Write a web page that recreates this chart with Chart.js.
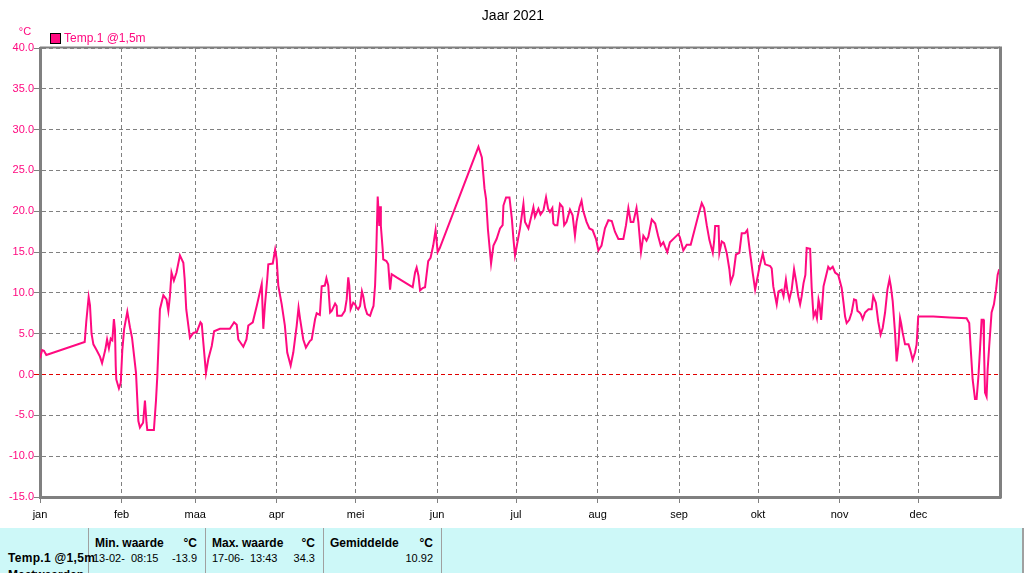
<!DOCTYPE html>
<html>
<head>
<meta charset="utf-8">
<title>Jaar 2021</title>
<script src="https://cdn.jsdelivr.net/npm/chart.js"></script>
<style>
  html, body { margin: 0; padding: 0; background: #fff; overflow: hidden; }
  #wrap { position: relative; width: 1024px; height: 573px; }
  #myChart { position: absolute; left: 0; top: 0; }
  #stats {
    position: absolute; left: 0; top: 528px; width: 1022px; height: 45px;
    background: #cdf8f8; border-right: 2px solid #a0a0a0;
    font-family: "Liberation Sans", Arial, sans-serif; font-size: 11px; color: #000;
    overflow: hidden;
  }
  #stats .sep { position: absolute; top: 0; width: 1px; height: 45px; background: #a0a0a0; }
  #stats span { position: absolute; white-space: nowrap; }
  #stats .b { font-weight: bold; font-size: 12px; }
</style>
</head>
<body>
<div id="wrap">
  <canvas id="myChart" width="1024" height="528"></canvas>
  <div id="stats">
    <div class="sep" style="left:88px"></div>
    <div class="sep" style="left:205px"></div>
    <div class="sep" style="left:323px"></div>
    <div class="sep" style="left:441px"></div>
    <span class="b" style="left:95px;top:8px">Min. waarde</span>
    <span class="b" style="right:825px;top:8px">°C</span>
    <span class="b" style="left:212px;top:8px">Max. waarde</span>
    <span class="b" style="right:707px;top:8px">°C</span>
    <span class="b" style="left:330px;top:8px">Gemiddelde</span>
    <span class="b" style="right:589px;top:8px">°C</span>
    <span class="b" style="left:8px;top:23px;letter-spacing:0.3px">Temp.1 @1,5m</span>
    <span style="left:93px;top:24px">13-02-&nbsp; 08:15</span>
    <span style="right:825px;top:24px">-13.9</span>
    <span style="left:212px;top:24px">17-06-&nbsp; 13:43</span>
    <span style="right:707px;top:24px">34.3</span>
    <span style="right:589px;top:24px">10.92</span>
    <span class="b" style="left:8px;top:40px">Meetwaarden</span>
  </div>
</div>

<script>
// month labels and the day of the year they start on
const monthLabels = ['jan', 'feb', 'maa', 'apr', 'mei', 'jun', 'jul', 'aug', 'sep', 'okt', 'nov', 'dec'];
const monthStarts = [0, 31, 59, 90, 120, 151, 181, 212, 243, 273, 304, 334];

// readings: day of the year (0 = 1 jan) and temperature in °C
const days = [
  0, 0.8, 1.5, 2.4, 17, 17.6, 18.5, 19, 19.6, 20.3, 21.5, 22.8, 23.6, 24.8, 25.5, 26.2, 26.9, 27.5, 28.1, 28.5,
  28.8, 29, 30, 30.7, 31.3, 32, 33.2, 34.2, 35, 36.5, 37.4, 38, 39.2, 39.9, 40.5, 40.8, 43.3, 44.1, 44.6, 45.6,
  46.9, 48.1, 48.8, 49.4, 50, 50.9, 51.9, 53.2, 54.5, 55, 55.6, 57, 58.3, 59.6, 61, 61.5, 62.1, 63.1, 64, 65.3,
  66.2, 68.4, 72.2, 73.8, 74.8, 75.4, 77.3, 78.5, 79.2, 80.9,
  82.4, 84.3, 84.9, 85.5, 86.4, 86.8, 88.5, 89.4, 90, 90.6, 91.9, 93.1, 94, 95.3, 96.3, 97.6, 98.3, 98.9, 100.1, 101.1,
  102.6, 103.3, 104.6, 105.2, 106.4, 107.1, 108.3, 108.9, 109.6, 110.3, 110.9, 112.2, 112.8, 113, 114.7, 115.9, 116.6, 117.2, 117.6, 118.1,
  119.1, 119.8, 120.4, 121, 121.7, 122.4, 122.9, 123.6, 124.4, 125.5, 126.1, 126.8, 127.4, 127.8, 128.4, 129, 129.3, 129.6, 130.3, 130.5,
  131.7, 132.4, 133.1, 133.7, 135.6, 140.7, 141.7, 142.6, 143.2, 143.9,
  144.5, 145.5, 146.4, 147.6, 148.5, 149.5, 150.4, 151.2, 152, 166.7, 168, 169, 169.6, 170.3, 171.5, 172.4, 173.6, 174.9, 175.9, 176.2,
  177.2, 178.5, 179.4, 180, 180.6, 181.3, 182.5, 183.8, 184.4, 185.7, 186.9, 187.6, 188.2, 189.5, 190.3, 191.4, 192.4, 193.2, 193.9, 194.8,
  195.2, 195.8, 196.7, 197.7, 198.7, 199.3, 200.2, 201.5, 202.5, 203.4, 204, 205.1, 205.9, 206.5, 207.8, 208.9, 210.1, 211.4, 212.3, 213.5,
  214.8, 216.1, 217.4, 218.6, 219.9, 221.8, 222.8, 223.7, 224.6, 225.6, 226.8, 227.5, 228.5, 229.4, 230.6, 231.3, 232.6, 233.9, 235, 236,
  237, 237.7, 238.5, 239.5, 241.4, 242.7, 243.3, 244.6, 245.9, 247.4, 249, 250.3, 251.6, 252.5, 253.5, 254.5, 255.8, 256.3, 256.7, 258,
  258.3, 259.2, 260.1, 261.1, 262.1, 262.6, 263.6, 264.6, 265.9, 266.8, 268, 268.9, 269.9, 271, 271.9, 272.5, 273.5, 274.8, 275.7, 277.6,
  278.2, 278.8, 279.5, 280.1, 280.8, 282, 282.7, 283.6, 284.1, 284.9, 285.8, 286.7, 287.5, 288.3, 289, 289.6, 290.3, 291, 291.5, 292.8,
  293.4, 294.1, 294.8, 295.4, 296, 296.4, 297, 297.6, 297.9, 298.8, 299.7, 300.4, 301.4, 302.3, 303.5, 304.8, 305.5, 306.1, 306.7, 307.7,
  308.6, 309.5, 310.3, 310.8, 311.6, 312.1, 312.8, 313.7, 315, 316.2, 316.8, 317.8, 318.7, 319.6, 320.4, 321.3, 322.2, 323, 323.5, 324.2,
  325.1, 325.7, 326.4, 327, 327.4, 328, 328.9, 330.2, 330.8, 331.8, 332.7, 333.3, 333.9, 339.6, 345.9, 352.3, 353.3, 353.8, 354.6, 355.5,
  356.1, 356.8, 357.4, 358, 358.7, 358.9, 359.3, 359.9, 360.3, 360.9, 361.8, 362.7, 363.5, 364.1, 364.7
];
const temps = [
  2.0, 3.0, 2.9, 2.4, 4.0, 6.5, 9.5, 8.5, 5.0, 3.7, 3.0, 2.2, 1.4, 3.0, 4.3, 3.2, 4.4, 4.2, 6.8, 5.5,
  1.0, -0.6, -1.7, -1.0, 3.0, 5.6, 7.7, 5.8, 4.5, 0.2, -5.7, -6.5, -5.9, -3.2, -5.9, -6.8, -6.8, -3.2, -0.2, 8.0,
  9.7, 9.2, 7.8, 9.6, 12.5, 11.5, 12.5, 14.6, 13.7, 11.7, 8.0, 4.5, 5.1, 5.2, 6.4, 6.2, 3.9, 0.2, 1.9, 3.5,
  5.3, 5.6, 5.6, 6.4, 6.1, 4.3, 3.4, 4.3, 6.0, 6.4,
  8.4, 11.1, 5.6, 8.4, 11.7, 13.5, 13.6, 15.3, 14.1, 10.9, 8.6, 6.0, 2.7, 1.1, 2.7, 6.0, 8.2, 6.8, 4.3, 3.3,
  4.1, 4.3, 6.8, 7.5, 7.3, 10.8, 10.9, 11.8, 10.9, 7.6, 7.8, 8.7, 8.4, 7.2, 7.2, 7.8, 9.2, 11.9, 10.9, 8.0,
  8.8, 8.6, 8.2, 8.0, 8.4, 10.2, 9.6, 8.2, 7.4, 7.2, 7.8, 8.4, 10.9, 14.5, 21.8, 18.2, 20.6, 18.2, 15.3, 14.1,
  13.9, 13.5, 10.4, 12.3, 11.9, 10.9, 10.7, 12.5, 13.1, 12.1,
  10.3, 10.6, 10.7, 13.9, 14.3, 15.8, 17.7, 15.0, 15.5, 27.9, 26.6, 22.8, 21.5, 17.8, 13.6, 15.8, 16.6, 17.9, 18.3, 20.7,
  21.7, 21.7, 19.1, 16.6, 14.6, 15.8, 17.9, 20.9, 18.7, 17.9, 19.5, 20.5, 19.3, 20.3, 19.6, 20.1, 21.7, 20.3, 19.9, 20.4,
  18.5, 18.3, 18.3, 20.9, 20.5, 18.3, 18.7, 20.2, 19.5, 17.0, 18.7, 20.5, 21.3, 20.1, 18.7, 17.9, 17.7, 16.6, 15.2, 15.8,
  17.9, 18.9, 18.8, 17.5, 16.6, 16.6, 18.3, 20.4, 18.7, 18.7, 20.4, 18.7, 15.0, 17.0, 16.4, 16.9, 19.0, 18.5, 17.0, 15.8,
  16.2, 15.6, 15.0, 16.2, 16.8, 17.2, 16.8, 15.2, 15.9, 15.9, 17.9, 19.5, 21.0, 20.4, 18.3, 16.5, 14.9, 16.3, 18.2, 18.2,
  14.9, 16.3, 16.1, 14.9, 12.9, 11.3, 12.2, 14.7, 14.9, 17.3, 17.3, 17.7, 15.1, 12.4, 10.4, 11.4, 13.1, 14.8, 13.5, 13.3,
  13.0, 10.8, 9.6, 8.6, 10.2, 10.4, 9.6, 11.6, 10.4, 9.2, 10.4, 12.9, 11.4, 9.6, 8.6, 9.6, 11.2, 12.2, 15.5, 15.4,
  10.6, 7.1, 7.7, 6.9, 9.2, 8.6, 6.7, 9.4, 10.8, 12.0, 13.2, 12.9, 13.2, 12.5, 12.2, 10.6, 8.8, 7.1, 6.3, 6.7,
  7.6, 9.2, 9.1, 7.8, 7.6, 7.4, 6.8, 7.6, 8.0, 8.0, 9.6, 8.8, 6.5, 4.9, 5.7, 7.6, 10.4, 11.7, 10.8, 9.0,
  5.1, 1.6, 3.7, 6.9, 6.3, 5.1, 3.7, 3.7, 3.1, 1.8, 2.7, 3.7, 7.1, 7.1, 7.0, 6.9, 6.3, 3.5, -0.6, -3.0,
  -3.0, -0.2, 3.1, 6.7, 6.7, 3.5, -2.2, -2.7, 0.6, 3.5, 7.6, 8.6, 10.4, 12.2, 12.9
];

const seriesLabel = 'Temp.1 @1,5m';
const seriesColor = '#ff0a80';
const axisGray = '#808080';
const zeroRed = '#e00000';
const fontFam = '"Liberation Sans", Arial, sans-serif';

// title, legend, unit label and top/right frame
const decorations = {
  id: 'decorations',
  afterDraw(chart) {
    const ctx = chart.ctx;
    const a = chart.chartArea;
    ctx.save();
    // frame on top and right
    ctx.strokeStyle = axisGray;
    ctx.lineWidth = 2;
    ctx.beginPath();
    ctx.moveTo(a.left, a.top - 0.5);
    ctx.lineTo(a.right, a.top - 0.5);
    ctx.stroke();
    ctx.lineWidth = 3;
    ctx.beginPath();
    ctx.moveTo(a.right + 0.5, a.top - 1.5);
    ctx.lineTo(a.right + 0.5, a.bottom + 1.5);
    ctx.stroke();
    // title
    ctx.fillStyle = '#000';
    ctx.font = '14px ' + fontFam;
    ctx.textAlign = 'center';
    ctx.textBaseline = 'middle';
    ctx.fillText('Jaar 2021', 513, 16);
    // unit
    ctx.fillStyle = seriesColor;
    ctx.font = '11px ' + fontFam;
    ctx.fillText('°C', 25, 32);
    // legend
    const ds = chart.data.datasets[0];
    ctx.fillStyle = ds.borderColor;
    ctx.fillRect(50.5, 33.5, 10, 10);
    ctx.strokeStyle = '#000';
    ctx.lineWidth = 1;
    ctx.strokeRect(50.5, 33.5, 10, 10);
    ctx.fillStyle = seriesColor;
    ctx.font = '12px ' + fontFam;
    ctx.textAlign = 'left';
    ctx.fillText(ds.label, 64, 39);
    ctx.restore();
  }
};

const config = {
  type: 'line',
  data: {
    datasets: [{
      label: seriesLabel,
      data: days.map((d, i) => ({ x: d, y: temps[i] })),
      borderColor: seriesColor,
      backgroundColor: seriesColor,
      borderWidth: 2,
      pointRadius: 0,
      tension: 0
    }]
  },
  options: {
    responsive: false,
    animation: false,
    layout: { padding: { top: 48, left: 0, right: 24, bottom: 0 } },
    plugins: {
      legend: { display: false },
      title: { display: false },
      tooltip: { enabled: false }
    },
    scales: {
      x: {
        type: 'linear',
        min: 0,
        max: 365,
        afterBuildTicks: (scale) => {
          scale.ticks = monthStarts.map(v => ({ value: v }));
        },
        afterFit: (scale) => { scale.height = 31; },
        ticks: {
          autoSkip: false,
          maxRotation: 0,
          color: '#000',
          font: { family: fontFam, size: 11 },
          padding: 5,
          callback: (value) => monthLabels[monthStarts.indexOf(value)]
        },
        grid: {
          color: axisGray,
          lineWidth: 1,
          tickLength: 6,
          drawTicks: true
        },
        border: { color: axisGray, width: 3, dash: [4, 3] }
      },
      y: {
        min: -15,
        max: 40,
        afterFit: (scale) => { scale.width = 40; },
        ticks: {
          stepSize: 5,
          color: seriesColor,
          font: { family: fontFam, size: 11 },
          padding: 0,
          callback: (value) => value.toFixed(1)
        },
        grid: {
          color: (c) => (c.tick && Math.abs(c.tick.value) < 1e-6 ? zeroRed : axisGray),
          lineWidth: 1,
          tickLength: 6
        },
        border: { color: axisGray, width: 3, dash: [4, 3] }
      }
    }
  },
  plugins: [decorations]
};

const myChart = new Chart(document.getElementById('myChart'), config);
</script>
</body>
</html>
